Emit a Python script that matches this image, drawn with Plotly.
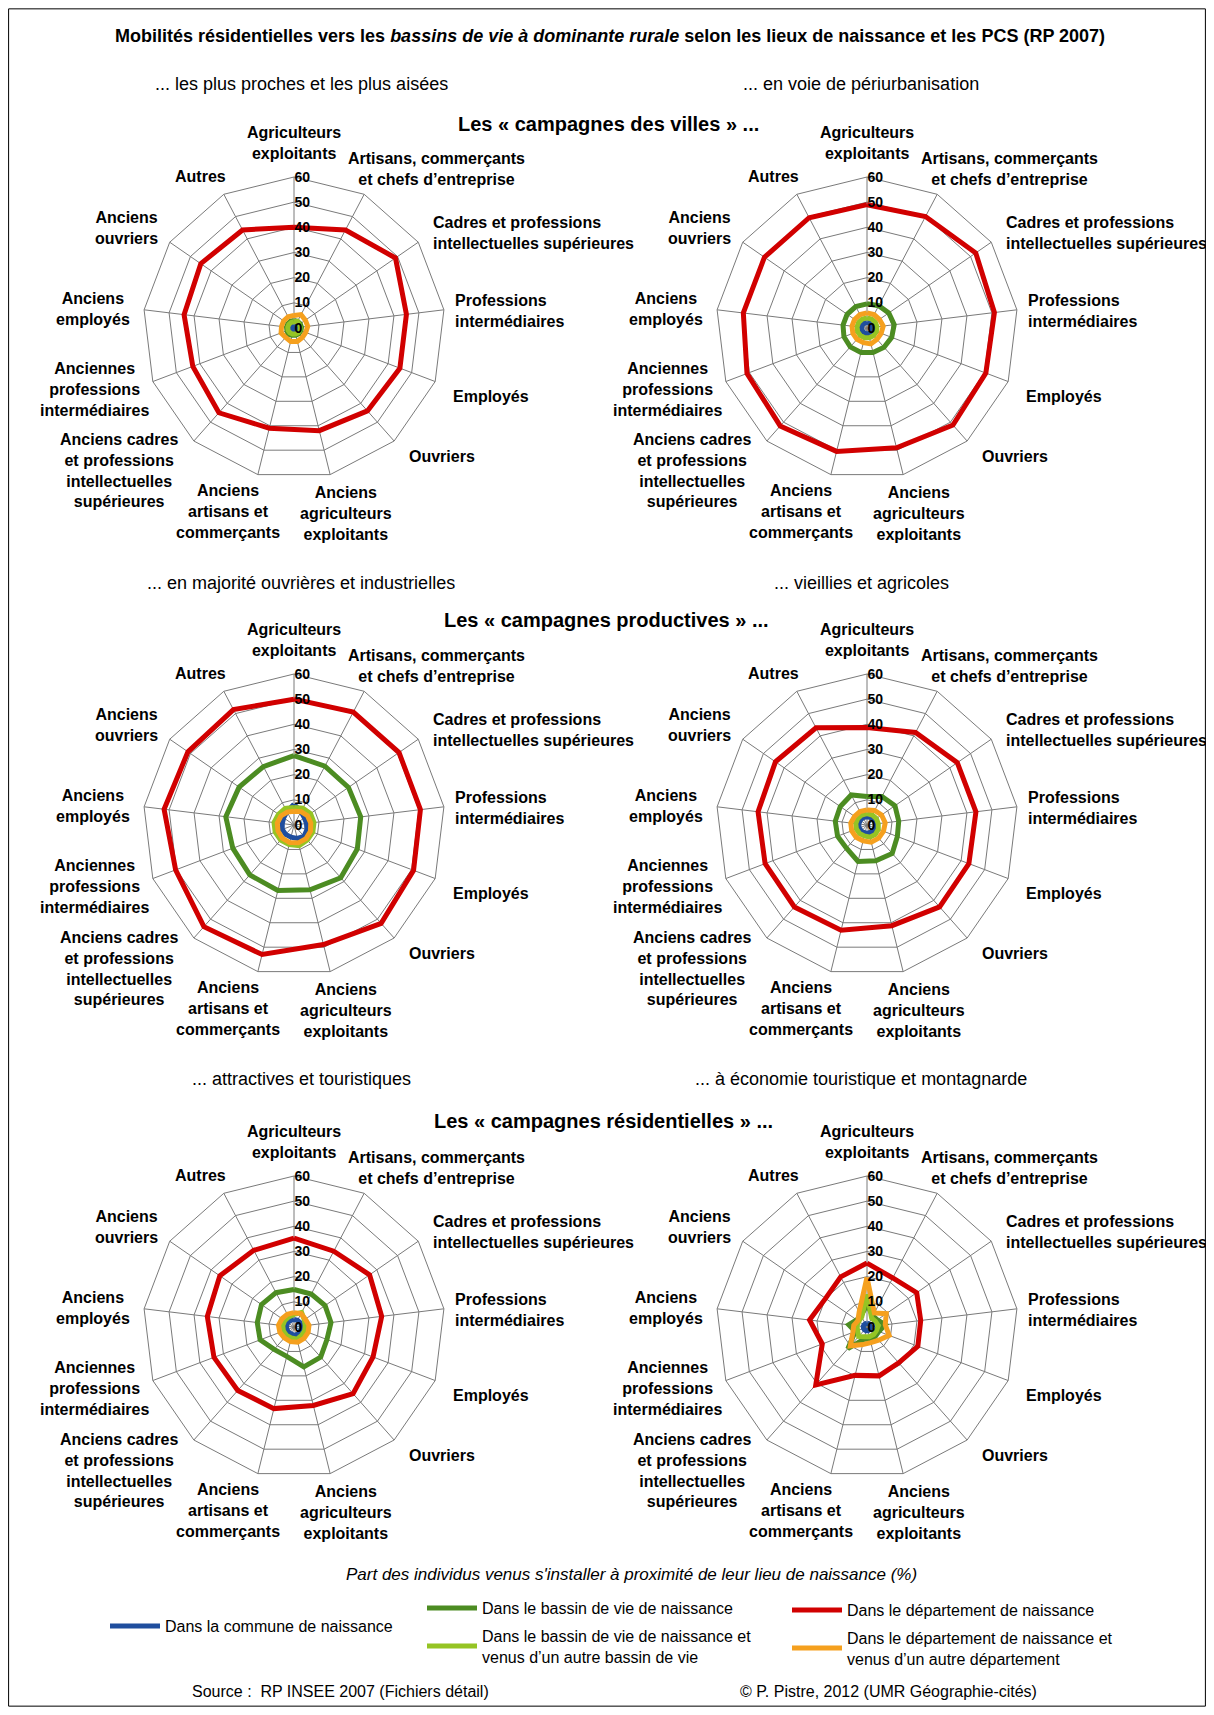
import plotly.graph_objects as go

categories = [
    "Agriculteurs exploitants", "Artisans, commerçants et chefs d'entreprise",
    "Cadres et professions intellectuelles supérieures", "Professions intermédiaires",
    "Employés", "Ouvriers", "Anciens agriculteurs exploitants",
    "Anciens artisans et commerçants", "Anciens cadres et professions intellectuelles supérieures",
    "Anciennes professions intermédiaires", "Anciens employés", "Anciens ouvriers", "Autres",
]
tick_labels = [
    "Agriculteurs<br>exploitants", "Artisans, commerçants<br>et chefs d’entreprise",
    "Cadres et professions<br>intellectuelles supérieures", "Professions<br>intermédiaires",
    "Employés", "Ouvriers", "Anciens<br>agriculteurs<br>exploitants",
    "Anciens<br>artisans et<br>commerçants", "Anciens cadres<br>et professions<br>intellectuelles<br>supérieures",
    "Anciennes<br>professions<br>intermédiaires", "Anciens<br>employés", "Anciens<br>ouvriers", "Autres",
]
radial_ticks = [0, 10, 20, 30, 40, 50, 60]

series_names = [
    "Dans la commune de naissance",
    "Dans le bassin de vie de naissance",
    "Dans le bassin de vie de naissance et<br>venus d’un autre bassin de vie",
    "Dans le département de naissance",
    "Dans le département de naissance et<br>venus d’un autre département",
]
series_colors = ["#1F4E9E", "#4C8C22", "#95C424", "#D10000", "#F5A01E"]

subtitles = [
    "... les plus proches et les plus aisées", "... en voie de périurbanisation",
    "... en majorité ouvrières et industrielles", "... vieillies et agricoles",
    "... attractives et touristiques", "... à économie touristique et montagnarde",
]
group_titles = [
    "Les « campagnes des villes » ...",
    "Les « campagnes productives » ...",
    "Les « campagnes résidentielles » ...",
]

# values (%) per chart: commune, bassin, bassin autre, département, département autre
villes_proches_commune = [1, 1, 1, 1, 1, 1, 1, 1, 1, 1, 1, 1, 1]
villes_proches_bassin = [3, 3, 3, 3, 3, 3, 3, 3, 3.5, 3, 3, 3, 3]
villes_proches_bassin_autre = [2.5, 3, 2.5, 2.5, 2.5, 2.5, 2.5, 2.5, 2.5, 2.5, 2.5, 2.5, 2.5]
villes_proches_dept = [40, 44, 49, 45, 45, 44, 42, 41, 45, 43, 44, 45, 44]
villes_proches_dept_autre = [5, 6, 5.5, 5.5, 5, 5, 5.5, 5.5, 5, 5.5, 5, 5, 5]

villes_periurb_commune = [2.2, 2.2, 2.4, 2.2, 2.2, 2.2, 2.4, 2.2, 2.2, 2.2, 2.2, 2.2, 2.2]
villes_periurb_bassin = [9.6, 10, 10.5, 10.9, 10.5, 10.2, 10, 10, 10, 9.8, 9.6, 9.6, 9.6]
villes_periurb_bassin_autre = [4, 4, 4, 4, 4, 4, 4, 4, 4, 4, 4, 4, 4]
villes_periurb_dept = [49, 50, 52.5, 51, 50.5, 51.5, 49, 50.5, 52, 51, 49.5, 49.5, 49.5]
villes_periurb_dept_autre = [6, 6, 6, 6.5, 6, 6, 6.5, 6, 6, 6, 6, 6, 6]

prod_ouvrieres_commune = [8.3, 6, 5, 5, 5.5, 6, 5.5, 5, 5, 5, 4.7, 5, 6]
prod_ouvrieres_bassin = [27.6, 26.4, 26.3, 26.7, 26.9, 28, 26.5, 26.8, 26.5, 26, 27.3, 26.5, 26.2]
prod_ouvrieres_bassin_autre = [7, 7.5, 8, 8, 8, 8, 8.5, 8, 8, 8, 8, 7.5, 7.5]
prod_ouvrieres_dept = [50, 50.7, 50.7, 50.6, 50.8, 52.2, 48.9, 53, 54, 50.3, 52, 51.2, 51.8]
prod_ouvrieres_dept_autre = [5.5, 6, 6.5, 6.7, 7, 7.2, 7.3, 7.2, 7, 6.8, 6.7, 6.3, 5.8]

prod_agricoles_commune = [3.3, 3.3, 3.3, 3.3, 3.3, 3.3, 3.3, 3.3, 3.3, 3.3, 3.3, 3.3, 3.3]
prod_agricoles_bassin = [11.3, 12.8, 13.5, 12.7, 12.9, 15.1, 14.6, 14.9, 12.3, 12.5, 12.7, 12.9, 13.5]
prod_agricoles_bassin_autre = [4.5, 4.5, 4.5, 4.5, 4.8, 5, 5, 4.5, 4.5, 4.5, 4.5, 4.5, 4.5]
prod_agricoles_dept = [38.7, 41.5, 43.6, 43.6, 43.3, 43.5, 41.2, 43.1, 43.5, 43.3, 43.6, 44.2, 43.6]
prod_agricoles_dept_autre = [6, 6.5, 7, 7.3, 7, 7, 7, 6.5, 6.5, 6.5, 6.5, 6, 6]

resid_touristiques_commune = [3, 3, 3, 3, 3, 3, 3.5, 3, 3, 3, 3, 3, 3]
resid_touristiques_bassin = [14.9, 14.8, 15, 14.8, 14, 16, 16.3, 12, 11.9, 14.4, 14.7, 15.7, 15.4]
resid_touristiques_bassin_autre = [5, 6.5, 5, 4.5, 4.5, 4.5, 5, 4.5, 4.5, 4.5, 4.5, 4.5, 4.5]
resid_touristiques_dept = [35.3, 34, 36.5, 35.1, 33.6, 35.4, 32.1, 33.4, 33.7, 34, 34.7, 35.8, 34.4]
resid_touristiques_dept_autre = [5.7, 6, 5.5, 6, 6, 6, 6.2, 6, 5.8, 6, 6.2, 5.8, 5.7]

resid_montagne_commune = [1.5, 1.5, 1.5, 1.5, 1.5, 1.5, 1.5, 1.5, 1.5, 1.5, 1.5, 1.5, 1.5]
resid_montagne_bassin = [9, 5, 5, 7.3, 5, 5, 5, 5, 11.5, 5, 7.3, 5, 5]
resid_montagne_bassin_autre = [13, 4, 4, 4.5, 4, 4, 4, 4, 5, 4, 4, 4, 4.5]
resid_montagne_dept = [25.4, 22, 24, 21.5, 21.6, 19, 20, 19.8, 30.7, 19, 23, 20, 22.5]
resid_montagne_dept_autre = [19.7, 6.3, 9.3, 7.3, 9.4, 7, 6.4, 7.2, 10, 6, 5.3, 4.4, 6.7]

charts = [
    [villes_proches_commune, villes_proches_bassin, villes_proches_bassin_autre,
     villes_proches_dept, villes_proches_dept_autre],
    [villes_periurb_commune, villes_periurb_bassin, villes_periurb_bassin_autre,
     villes_periurb_dept, villes_periurb_dept_autre],
    [prod_ouvrieres_commune, prod_ouvrieres_bassin, prod_ouvrieres_bassin_autre,
     prod_ouvrieres_dept, prod_ouvrieres_dept_autre],
    [prod_agricoles_commune, prod_agricoles_bassin, prod_agricoles_bassin_autre,
     prod_agricoles_dept, prod_agricoles_dept_autre],
    [resid_touristiques_commune, resid_touristiques_bassin, resid_touristiques_bassin_autre,
     resid_touristiques_dept, resid_touristiques_dept_autre],
    [resid_montagne_commune, resid_montagne_bassin, resid_montagne_bassin_autre,
     resid_montagne_dept, resid_montagne_dept_autre],
]

W, H = 1198, 1699
FONT = "Liberation Sans, Arial, sans-serif"
centers = [(286, 320), (859, 320), (286, 817), (859, 817), (286, 1319), (859, 1319)]
R = 151
legend_of = ["legend", "legend2", "legend2", "legend3", "legend3"]
# where each category label sits around a chart (offset from centre, px) and its anchor
label_offsets = [
    (0, -185, "center"), (142, -159, "center"), (137, -95, "left"), (159, -17, "left"),
    (157, 68, "left"), (113, 128, "left"), (52, 185, "center"), (-66, 183, "center"),
    (-175, 143, "center"), (-200, 61, "center"), (-201, -19, "center"),
    (-168, -100, "center"), (-94, -152, "center"),
]

fig = go.Figure()
layout = {}
ann = []


def text(x, y, s, size=16, bold=False, italic=False, anchor="center", align="center"):
    ann.append(dict(x=x / W, y=1 - y / H, xref="paper", yref="paper", text=s, showarrow=False,
                    xanchor=anchor, yanchor="middle", align=align,
                    font=dict(family=FONT, size=size, color="black",
                              weight="bold" if bold else "normal",
                              style="italic" if italic else "normal")))


for i, values in enumerate(charts):
    pname = "polar" if i == 0 else f"polar{i + 1}"
    for j, vals in enumerate(values):
        fig.add_trace(go.Scatterpolar(
            r=vals + vals[:1], theta=categories + categories[:1], mode="lines",
            line=dict(color=series_colors[j], width=5),
            name=series_names[j], subplot=pname, showlegend=(i == 0),
            legend=legend_of[j], legendgroup=str(j),
        ))
    cx, cy = centers[i]
    layout[pname] = dict(
        domain=dict(x=[(cx - R) / W, (cx + R) / W], y=[1 - (cy + R) / H, 1 - (cy - R) / H]),
        gridshape="linear", bgcolor="white",
        radialaxis=dict(range=[0, 60], tickvals=radial_ticks, angle=90, tickangle=90,
                        showline=False, gridcolor="#7a7a7a", gridwidth=1, ticks="",
                        tickfont=dict(family=FONT, size=14, color="black", weight="bold")),
        angularaxis=dict(direction="clockwise", rotation=90, categoryarray=categories,
                         showticklabels=False, gridcolor="#7a7a7a", linecolor="#7a7a7a",
                         showline=True, ticks=""),
    )
    for lab, (dx, dy, anc) in zip(tick_labels, label_offsets):
        text(cx + dx, cy + dy, lab, size=16, bold=True, anchor=anc, align=anc)

fig.update_layout(**layout)

text(602, 28, "Mobilités résidentielles vers les <i>bassins de vie à dominante rurale</i> "
     "selon les lieux de naissance et les PCS (RP 2007)", size=18, bold=True)
sub_pos = [(293, 76), (853, 76), (293, 575), (853, 575), (293, 1071), (853, 1071)]
for s, (x, y) in zip(subtitles, sub_pos):
    text(x, y, s, size=18)
for s, (x, y) in zip(group_titles, [(600, 116), (598, 612), (595, 1113)]):
    text(x, y, s, size=20, bold=True)
text(623, 1566, "Part des individus venus s'installer à proximité de leur lieu de naissance (%)",
     size=17, italic=True)
text(182, 1683, "Source :  RP INSEE 2007 (Fichiers détail)", size=16, anchor="left")
text(730, 1683, "© P. Pistre, 2012 (UMR Géographie-cités)", size=16, anchor="left")

leg = dict(orientation="v", xanchor="left", bgcolor="rgba(0,0,0,0)", itemwidth=50,
           tracegroupgap=4, font=dict(family=FONT, size=16, color="black"))
fig.update_layout(
    width=W, height=H, margin=dict(l=0, r=0, t=0, b=0),
    paper_bgcolor="white", plot_bgcolor="white",
    annotations=ann,
    legend=dict(leg, x=97 / W, y=1 - 1618 / H, yanchor="middle"),
    legend2=dict(leg, x=414 / W, y=1 - 1583 / H, yanchor="top"),
    legend3=dict(leg, x=779 / W, y=1 - 1585 / H, yanchor="top"),
    shapes=[dict(type="rect", xref="paper", yref="paper", x0=0.0005, x1=0.9995, y0=0.0005, y1=0.9995,
                 line=dict(color="black", width=1))],
)

fig.write_html("out.html")
